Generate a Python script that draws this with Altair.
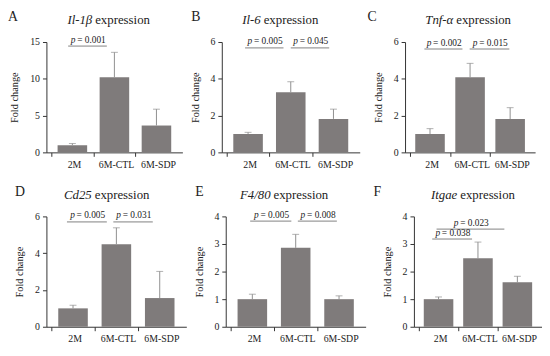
import altair as alt
import pandas as pd

FONT = "Liberation Serif"
BAR = "#7f7b7b"
ERR = "#8f8f8f"
BRK = "#808080"
TXT = "#222222"
AX = "#333333"

groups = ["2M", "6M-CTL", "6M-SDP"]

letters = ["A", "B", "C", "D", "E", "F"]
genes = ["Il-1\u03b2", "Il-6", "Tnf-\u03b1", "Cd25", "F4/80", "Itgae"]

mean_A = [0.98, 10.2, 3.65]
upper_A = [1.2, 13.6, 5.87]
mean_B = [1.0, 3.27, 1.82]
upper_B = [1.09, 3.84, 2.35]
mean_C = [1.0, 4.08, 1.81]
upper_C = [1.29, 4.84, 2.43]
mean_D = [1.0, 4.49, 1.56]
upper_D = [1.17, 5.38, 3.01]
mean_E = [1.0, 2.86, 1.0]
upper_E = [1.18, 3.35, 1.12]
mean_F = [1.0, 2.48, 1.61]
upper_F = [1.08, 3.07, 1.83]

means = [mean_A, mean_B, mean_C, mean_D, mean_E, mean_F]
uppers = [upper_A, upper_B, upper_C, upper_D, upper_E, upper_F]

y_max = [15, 6, 6, 6, 4, 4]
y_step = [5, 2, 2, 2, 1, 1]

# brackets: start, end (in group index units), height, p value
br_start = [[-0.1], [-0.07, 1.0], [-0.14, 0.99], [-0.14, 0.93], [-0.05, 1.05], [-0.05, -0.16]]
br_end = [[0.82], [0.83, 1.9], [0.81, 1.98], [0.78, 1.84], [0.9, 1.95], [1.67, 0.85]]
br_y = [[14.45], [5.68, 5.68], [5.62, 5.62], [5.7, 5.7], [3.83, 3.83], [3.54, 3.18]]
br_p = [["0.001"], ["0.005", "0.045"], ["0.002", "0.015"], ["0.005", "0.031"],
        ["0.005", "0.008"], ["0.023", "0.038"]]

# layout (pixels)
widths = [138, 140, 132, 142, 142, 130]
letter_x = [-39, -31, -38, -32, -31, -41]
title_split = [46.5, 39.5, 49, 46, 45.5, 44]
H = 112


def panel(i):
    w = widths[i]
    bars = pd.DataFrame({"group": groups, "pos": list(range(len(groups))),
                         "mean": means[i], "upper": uppers[i]})
    brk = pd.DataFrame({"x1": br_start[i], "x2": br_end[i], "y": br_y[i], "p": br_p[i]})
    xs = alt.Scale(domain=[-0.5, len(groups) - 0.5], nice=False, zero=False)
    ys = alt.Scale(domain=[0, y_max[i]], nice=False)
    label_expr = ("datum.value < 0 ? '%s' : datum.value < 1 ? '%s' : '%s'" % tuple(groups))
    xaxis = alt.Axis(values=[-0.5, 0.5, 1.5], labelExpr=label_expr, labelOffset=w / 6,
                     title=None, grid=False, labelFlush=False, labelOverlap=False,
                     tickSize=4, labelPadding=3, domainColor=AX, tickColor=AX)
    yvals = [float(v) for v in range(0, y_max[i] + 1, y_step[i])]
    yaxis = alt.Axis(values=yvals, title="Fold change",
                     grid=False, tickSize=4, labelPadding=3, titlePadding=10,
                     labelOverlap=False, labelFlush=False, domainColor=AX, tickColor=AX)

    def X(f):
        return alt.X(f, scale=xs, axis=xaxis)

    def Y(f):
        return alt.Y(f, scale=ys, axis=yaxis)

    b = alt.Chart(bars).mark_bar(size=30, color=BAR).encode(x=X("pos:Q"), y=Y("mean:Q"))
    err = alt.Chart(bars).mark_rule(color=ERR, strokeWidth=1).encode(
        x=X("pos:Q"), y=Y("mean:Q"), y2="upper:Q")
    cap = alt.Chart(bars).mark_tick(orient="horizontal", size=7, thickness=1, color=ERR).encode(
        x=X("pos:Q"), y=Y("upper:Q"))
    rule = alt.Chart(brk).mark_rule(color=BRK, strokeWidth=1).encode(
        x=X("x1:Q"), x2="x2:Q", y=Y("y:Q"))
    ptxt = alt.Chart(brk).transform_calculate(xm="(datum.x1 + datum.x2) / 2").mark_text(
        align="left", baseline="middle", dx=-17, dy=-6.5, font=FONT, fontSize=9.5,
        fontStyle="italic", color=TXT).encode(
        x=X("xm:Q"), y=Y("y:Q"), text=alt.value("p"))
    vtxt = alt.Chart(brk).transform_calculate(
        xm="(datum.x1 + datum.x2) / 2", lab="'= ' + datum.p").mark_text(
        align="left", baseline="middle", dx=-10.5, dy=-6.5, font=FONT, fontSize=9.5,
        color=TXT).encode(
        x=X("xm:Q"), y=Y("y:Q"), text="lab:N")

    one = pd.DataFrame({"k": [0]})
    gene = alt.Chart(one).mark_text(align="right", baseline="middle", font=FONT, fontSize=13,
                                    fontStyle="italic", color=TXT).encode(
        x=alt.value(title_split[i]), y=alt.value(-22), text=alt.value(genes[i]))
    expr = alt.Chart(one).mark_text(align="left", baseline="middle", dx=3, font=FONT,
                                    fontSize=13, color=TXT).encode(
        x=alt.value(title_split[i]), y=alt.value(-22), text=alt.value("expression"))
    let = alt.Chart(one).mark_text(align="left", baseline="middle", font=FONT, fontSize=14,
                                   color=TXT).encode(
        x=alt.value(letter_x[i]), y=alt.value(-25), text=alt.value(letters[i]))

    return alt.layer(b, err, cap, rule, ptxt, vtxt, gene, expr, let).properties(width=w, height=H)


row1 = alt.hconcat(panel(0), panel(1), panel(2), spacing=8)
row2 = alt.hconcat(panel(3), panel(4), panel(5), spacing=8)

chart = alt.vconcat(row1, row2, spacing=16).properties(
    padding={"left": 0, "top": 0, "right": 0, "bottom": 0},
    background="white",
).configure_view(stroke=None).configure_axis(
    labelFont=FONT, titleFont=FONT, labelFontSize=10, titleFontSize=10.5,
    titleFontWeight="normal", labelColor=TXT, titleColor=TXT,
)

chart.save("out.html", embed_options={"renderer": "svg", "actions": False})
